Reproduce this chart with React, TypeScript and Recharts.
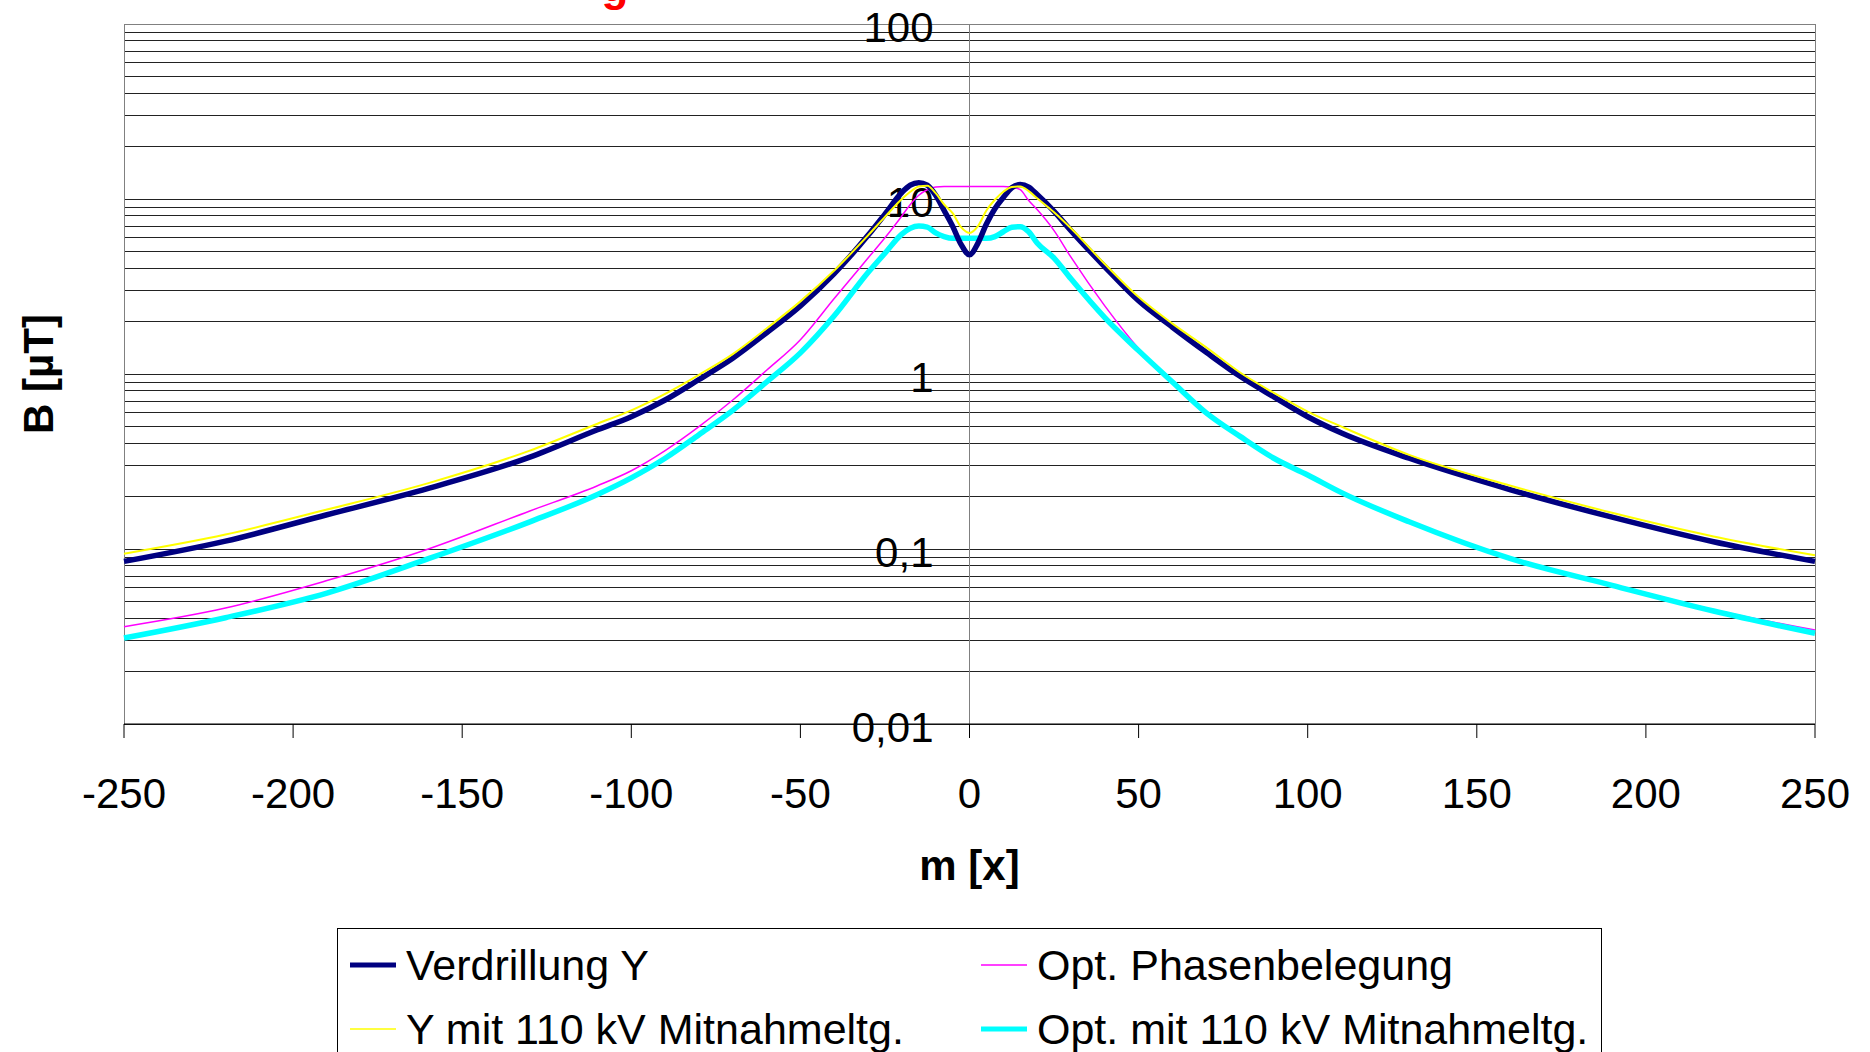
import { LineChart, Line, XAxis, YAxis, ReferenceLine, Label } from 'recharts'

// distance from the line centre, m
const positions = [
  -250, -220, -190, -160, -130, -110, -100, -90, -80, -70, -60, -50, -40, -30, -25,
  -20, -17.5, -15, -12.5, -10, -7.5, -5, -2.5, 0, 2.5, 5, 7.5, 10, 12.5, 15, 17.5, 20,
  25, 30, 40, 50, 60, 70, 80, 90, 100, 110, 130, 160, 190, 220, 250,
]

// B [µT] per series
const verdrillungY = [
  0.085, 0.111, 0.157, 0.222, 0.335, 0.48, 0.57, 0.71, 0.93, 1.23, 1.72, 2.45, 3.75, 6.2, 8.2,
  10.9, 12.0, 12.4, 12.0, 10.5, 8.6, 7.0, 5.5, 4.8, 5.6, 7.2, 8.8, 10.2, 11.6, 12.1, 11.7, 10.6,
  8.5, 6.6, 4.1, 2.62, 1.85, 1.33, 0.97, 0.74, 0.57, 0.46, 0.33, 0.218, 0.152, 0.11, 0.085,
]
const yMit110 = [
  0.094, 0.121, 0.168, 0.238, 0.365, 0.52, 0.62, 0.77, 0.99, 1.3, 1.82, 2.6, 3.9, 6.2, 7.9,
  10.0, 11.0, 11.8, 11.9, 10.8, 9.3, 8.3, 6.9, 6.4, 7.0, 8.6, 9.9, 11.0, 11.7, 11.8, 11.1, 10.1,
  8.4, 6.8, 4.25, 2.75, 1.94, 1.42, 1.02, 0.78, 0.61, 0.5, 0.345, 0.23, 0.161, 0.118, 0.092,
]
const optPhasen = [
  0.036, 0.046, 0.066, 0.1, 0.165, 0.23, 0.28, 0.365, 0.5, 0.71, 1.05, 1.57, 2.7, 4.6, 6.0,
  8.0, 9.3, 10.5, 11.3, 11.7, 11.8, 11.8, 11.8, 11.8, 11.8, 11.8, 11.8, 11.8, 11.7, 11.3, 9.8, 8.7,
  6.6, 4.65, 2.45, 1.4, 0.9, 0.6, 0.435, 0.335, 0.268, 0.213, 0.145, 0.089, 0.063, 0.045, 0.0344,
]
const optMit110 = [
  0.031, 0.0405, 0.056, 0.088, 0.143, 0.205, 0.255, 0.33, 0.45, 0.62, 0.9, 1.32, 2.15, 3.8, 4.9,
  6.3, 6.8, 7.0, 6.9, 6.4, 6.1, 5.96, 5.96, 5.96, 5.96, 5.96, 6.1, 6.5, 6.9, 6.95, 6.5, 5.6,
  4.6, 3.5, 2.1, 1.36, 0.9, 0.6, 0.44, 0.33, 0.265, 0.21, 0.143, 0.088, 0.062, 0.0442, 0.033,
]

const seriesNames = ['Verdrillung Y', 'Opt. Phasenbelegung', 'Y mit 110 kV Mitnahmeltg.', 'Opt. mit 110 kV Mitnahmeltg.']

const xTicks = [-250, -200, -150, -100, -50, 0, 50, 100, 150, 200, 250]
const decades = [0.01, 0.1, 1, 10, 100]
const decadeLabels = ['0,01', '0,1', '1', '10', '100']
const minorGrid = [
  0.02, 0.03, 0.04, 0.05, 0.06, 0.07, 0.08, 0.09,
  0.2, 0.3, 0.4, 0.5, 0.6, 0.7, 0.8, 0.9,
  2, 3, 4, 5, 6, 7, 8, 9,
  20, 30, 40, 50, 60, 70, 80, 90,
]

const data = positions.map((m, i) => ({
  m,
  verdrillungY: verdrillungY[i],
  yMit110: yMit110[i],
  optPhasen: optPhasen[i],
  optMit110: optMit110[i],
}))

const FONT = '"Liberation Sans", Arial, sans-serif'
const GRID = '#222'

function DecadeLabel({ viewBox, text }: any) {
  const cx = viewBox.x + viewBox.width / 2
  return (
    <text x={cx - 36} y={viewBox.y + 18} textAnchor="end" fontSize={42} fontFamily={FONT} fill="#000">
      {text}
    </text>
  )
}

const legendItems = [
  { name: seriesNames[0], color: '#000080', width: 5, left: 12, top: 36 },
  { name: seriesNames[1], color: '#FF00FF', width: 1.5, left: 643, top: 36 },
  { name: seriesNames[2], color: '#FFFF00', width: 1.5, left: 12, top: 100 },
  { name: seriesNames[3], color: '#00FFFF', width: 5, left: 643, top: 100 },
]

function ChartLegend() {
  return (
    <div style={{
      position: 'absolute', left: 337, top: 928, width: 1263, height: 200,
      border: '1px solid #000', background: '#fff', fontFamily: FONT, fontSize: 43,
    }}>
      {legendItems.map(it => (
        <div key={it.name} style={{
          position: 'absolute', left: it.left, top: it.top - 25, height: 50,
          display: 'flex', alignItems: 'center', whiteSpace: 'nowrap', lineHeight: 1,
        }}>
          <svg width={46} height={10} style={{ marginRight: 10 }}>
            <line x1={0} x2={46} y1={5} y2={5} stroke={it.color} strokeWidth={it.width} />
          </svg>
          <span>{it.name}</span>
        </div>
      ))}
    </div>
  )
}

export default function App() {
  return (
    <div style={{ position: 'absolute', left: 0, top: 0, width: 1870, height: 1052, overflow: 'hidden', background: '#fff' }}>
      <svg width={1870} height={20} style={{ position: 'absolute', left: 0, top: 0 }}>
        <text x={615} y={1} textAnchor="middle" fontSize={44} fontWeight="bold" fontFamily={FONT} fill="#FF0000">g</text>
      </svg>
      <LineChart width={1870} height={1052} data={data} margin={{ top: 24, right: 55, left: 0, bottom: 228 }}>
        <XAxis
          dataKey="m" type="number" domain={[-250, 250]} ticks={xTicks} height={100}
          tick={{ fontSize: 42, fill: '#000', fontFamily: FONT }}
          tickSize={14} tickMargin={40}
          axisLine={{ stroke: '#000' }} tickLine={{ stroke: '#000' }}
        >
          <Label content={({ viewBox }: any) => (
            <text x={viewBox.x + viewBox.width / 2} y={viewBox.y + 156} textAnchor="middle"
              fontSize={42} fontWeight="bold" fontFamily={FONT} fill="#000">m [x]</text>
          )} />
        </XAxis>
        <YAxis
          scale="log" type="number" domain={[0.01, 100]} ticks={decades} allowDataOverflow
          width={124} tick={false} tickLine={false} axisLine={false}
        >
          <Label content={({ viewBox }: any) => {
            const x = viewBox.x + 53
            const y = viewBox.y + viewBox.height / 2
            return (
              <text x={x} y={y} transform={`rotate(-90, ${x}, ${y})`} textAnchor="middle"
                fontSize={42} fontWeight="bold" fontFamily={FONT} fill="#000">B [µT]</text>
            )
          }} />
        </YAxis>

        {minorGrid.map(v => (
          <ReferenceLine key={'g' + v} y={v} stroke={GRID} strokeWidth={1} shapeRendering="crispEdges" />
        ))}
        {decades.map((v, i) => (
          <ReferenceLine key={'d' + v} y={v} stroke={v === 100 ? '#808080' : GRID} strokeWidth={1}
            shapeRendering="crispEdges" label={<DecadeLabel text={decadeLabels[i]} />} />
        ))}
        <ReferenceLine x={-250} stroke="#808080" shapeRendering="crispEdges" />
        <ReferenceLine x={250} stroke="#808080" shapeRendering="crispEdges" />
        <ReferenceLine x={0} stroke="#808080" shapeRendering="crispEdges" />

        <Line type="monotone" dataKey="optPhasen" stroke="#FF00FF" strokeWidth={1.5} dot={false} isAnimationActive={false} />
        <Line type="monotone" dataKey="optMit110" stroke="#00FFFF" strokeWidth={5.5} dot={false} isAnimationActive={false} />
        <Line type="monotone" dataKey="verdrillungY" stroke="#000080" strokeWidth={5.5} dot={false} isAnimationActive={false} />
        <Line type="monotone" dataKey="yMit110" stroke="#FFFF00" strokeWidth={2} dot={false} isAnimationActive={false} />
      </LineChart>
      <ChartLegend />
    </div>
  )
}
